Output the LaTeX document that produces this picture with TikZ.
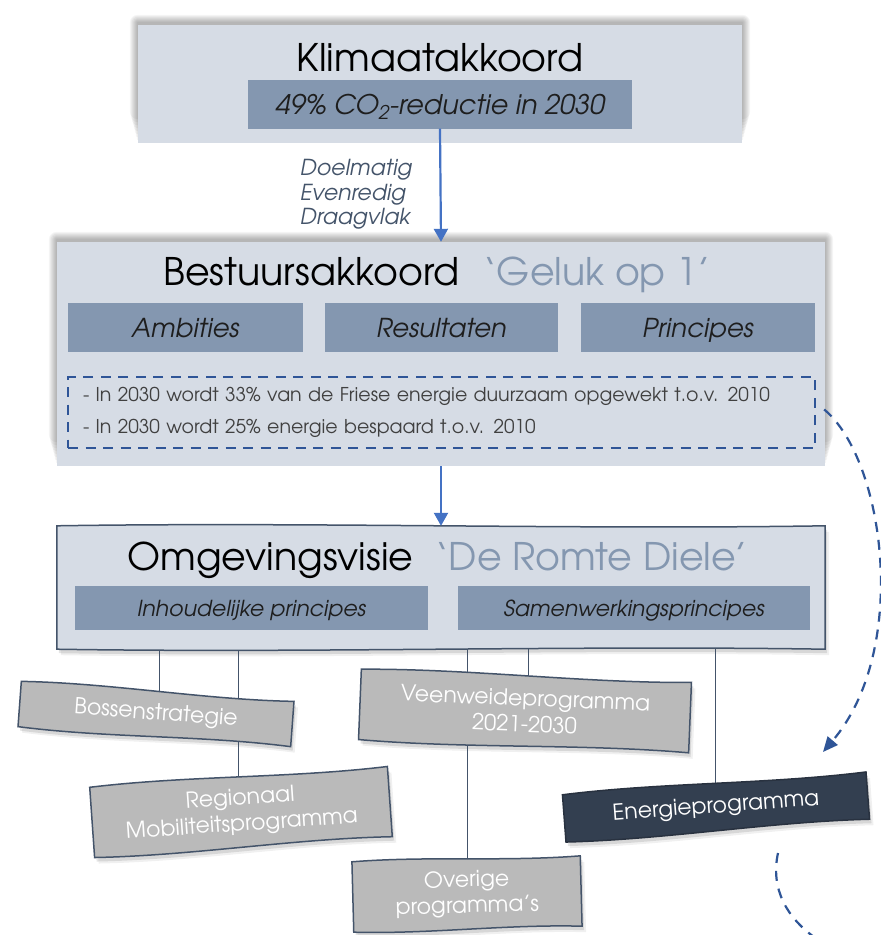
\documentclass[tikz,border=0pt]{standalone}
\usepackage{fontspec}
\setmainfont{texgyreadventor}[Extension=.otf, UprightFont=*-regular, ItalicFont=*-italic, BoldFont=*-bold, BoldItalicFont=*-bolditalic]
\usetikzlibrary{calc,arrows.meta}
\definecolor{boxfill}{HTML}{D6DCE5}
\definecolor{subfill}{HTML}{8497B0}
\definecolor{tgray}{HTML}{8497B0}
\definecolor{outl}{HTML}{44546A}
\definecolor{gfill}{HTML}{BABABA}
\definecolor{enefill}{HTML}{333F50}
\definecolor{barrowc}{HTML}{4472C4}
\definecolor{dashc}{HTML}{2F5597}
\definecolor{lblc}{HTML}{44546A}
\definecolor{txtc}{HTML}{1E1E1E}
\pgfdeclarelayer{shadow}
\pgfdeclarelayer{wave}
\pgfsetlayers{shadow,wave,main}
\newcommand\wavyshape[3]{%
  \path[#1] (#2.north west)
    .. controls ($(#2.north west)!0.33!(#2.north east)!#3!90:(#2.north east)$)
    and ($(#2.north west)!0.67!(#2.north east)!#3!-90:(#2.north east)$) .. (#2.north east)
    -- (#2.south east)
    .. controls ($(#2.south east)!0.33!(#2.south west)!#3!-90:(#2.south west)$)
    and ($(#2.south east)!0.67!(#2.south west)!#3!90:(#2.south west)$) .. (#2.south west)
    -- cycle;}
\newcommand\softshadow[1]{%
  \foreach \i in {1,...,8}{%
    \fill[black,opacity=0.04,rounded corners=\i pt]
      ($(#1.south west)+(-\i,-3*\i)$) rectangle ($(#1.north east)+(\i,-\i-2)$);}}
\newcommand\waveshadow[2]{%
  \begin{scope}[transform canvas={shift={(2pt,-4pt)}}]
    \wavyshape{fill=black,opacity=0.10}{#1}{#2}
  \end{scope}
  \begin{scope}[transform canvas={shift={(4pt,-6pt)}}]
    \wavyshape{fill=black,opacity=0.06}{#1}{#2}
  \end{scope}}
\tikzset{
  bigbox/.style={fill=boxfill, draw=none, inner sep=0pt},
  subbox/.style={fill=subfill, draw=none, inner sep=0pt, text=txtc, text depth=0pt},
  titletxt/.style={inner sep=0pt, text=black, font=\fontsize{38}{40}\selectfont},
  lbl/.style={inner sep=0pt, text=lblc, font=\fontsize{22}{25}\selectfont\itshape, anchor=west,
    text height=16pt, text depth=0pt},
  dashbox/.style={draw=dashc, line width=2.4pt, dash pattern=on 10pt off 7.5pt,
    inner xsep=15pt, inner ysep=0pt, text=txtc!85!white, align=left},
  gbox/.style={inner sep=0pt, text=white, align=center,
    font=\fontsize{22}{26}\selectfont},
  gwave/.style={fill=gfill, draw=outl, line width=1.5pt},
  ewave/.style={fill=enefill, draw=enefill!80!black, line width=1.5pt},
  owave/.style={fill=boxfill, draw=outl, line width=1.5pt},
  barrow/.style={draw=barrowc, line width=2.2pt, -{Triangle[length=13pt,width=14pt]}},
  conn/.style={draw=outl, line width=1pt},
  dashcurve/.style={draw=dashc, line width=2.2pt, dash pattern=on 10pt off 8pt},
}
\begin{document}
\begin{tikzpicture}[x=1pt,y=-1pt]
\useasboundingbox (0,0) rectangle (881,935);
\begin{pgfonlayer}{shadow}
\fill[white] (0,0) rectangle (881,935);
\end{pgfonlayer}

% Klimaatakkoord
\node[bigbox, minimum width=604pt, minimum height=118pt] (klim) at (440,84) {};
\node[titletxt, anchor=base] (klimt) at (440,71) {Klimaatakkoord};
\node[subbox, minimum width=384pt, minimum height=49pt, text height=20pt,
  font=\fontsize{27}{30}\selectfont\itshape] (co2) at (440,104) {49\% CO\textsubscript{2}-reductie in 2030};

\node[lbl] (l1) at (300,167) {Doelmatig};
\node[lbl] (l2) at (300,192) {Evenredig};
\node[lbl] (l3) at (300,216) {Draagvlak};

% Bestuursakkoord
\node[bigbox, minimum width=768pt, minimum height=224pt] (best) at (441,354) {};
\node[titletxt, anchor=base] (bestt) at (437,285) {Bestuursakkoord\hspace{24pt}\textcolor{tgray}{‘Geluk op 1’}};
\node[subbox, minimum width=235pt, minimum height=49pt, text height=19pt, font=\fontsize{26}{28}\selectfont\itshape] (amb) at (185.5,327.5) {Ambities};
\node[subbox, minimum width=233pt, minimum height=49pt, text height=19pt, font=\fontsize{26}{28}\selectfont\itshape] (res) at (441.5,327.5) {Resultaten};
\node[subbox, minimum width=234pt, minimum height=49pt, text height=19pt, font=\fontsize{26}{28}\selectfont\itshape] (pri) at (698,327.5) {Principes};
\node[dashbox, text width=717pt, minimum height=71pt, font=\fontsize{19}{32}\selectfont] (da) at (441.5,412.5)
  {- In 2030 wordt 33\% van de Friese energie duurzaam opgewekt t.o.v. 2010\\- In 2030 wordt 25\% energie bespaard t.o.v. 2010};

% Omgevingsvisie
\node[inner sep=0pt, minimum width=768pt, minimum height=123pt] (omg) at (441,587.5) {};
\node[titletxt, anchor=base] (omgt) at (438,570) {Omgevingsvisie\hspace{22pt}\textcolor{tgray}{‘De Romte Diele’}};
\node[subbox, minimum width=353pt, minimum height=44pt, text height=16pt, font=\fontsize{22}{24}\selectfont\itshape] (inh) at (251.5,608) {Inhoudelijke principes};
\node[subbox, minimum width=352pt, minimum height=44pt, text height=16pt, font=\fontsize{22}{24}\selectfont\itshape] (sam) at (634,608) {Samenwerkingsprincipes};

% programma boxes
\node[gbox, rotate=-4.2, minimum width=273pt, minimum height=45pt] (bos) at (156,714) {Bossenstrategie};
\node[gbox, rotate=4, minimum width=298pt, minimum height=70pt] (reg) at (241,812) {Regionaal\\Mobiliteitsprogramma};
\node[gbox, rotate=-2.3, minimum width=330pt, minimum height=70pt] (vee) at (525,711) {Veenweideprogramma\\2021-2030};
\node[gbox, rotate=1.5, minimum width=228pt, minimum height=70pt] (ove) at (467,894) {Overige\\programma’s};
\node[gbox, rotate=4.3, minimum width=304pt, minimum height=47pt] (ene) at (716,807) {Energieprogramma};

\begin{pgfonlayer}{shadow}
  \softshadow{klim}
  \softshadow{best}
  \waveshadow{omg}{4pt}
  \waveshadow{bos}{5pt}
  \waveshadow{reg}{5pt}
  \waveshadow{vee}{5pt}
  \waveshadow{ove}{4pt}
  \waveshadow{ene}{5pt}
  \coordinate (x1) at (159,0);
  \coordinate (x2) at (238,0);
  \coordinate (x3) at (467,0);
  \coordinate (x4) at (528,0);
  \coordinate (x5) at (715,0);
  \draw[conn] (x1 |- omg.center) -- (x1 |- bos.center);
  \draw[conn] (x2 |- omg.center) -- (x2 |- reg.center);
  \draw[conn] (x3 |- omg.center) -- (x3 |- ove.center);
  \draw[conn] (x4 |- omg.center) -- (x4 |- vee.center);
  \draw[conn] (x5 |- omg.center) -- (x5 |- ene.center);
\end{pgfonlayer}

\begin{pgfonlayer}{wave}
  \wavyshape{owave}{omg}{4pt}
  \wavyshape{gwave}{bos}{5pt}
  \wavyshape{gwave}{reg}{5pt}
  \wavyshape{gwave}{vee}{5pt}
  \wavyshape{gwave}{ove}{4pt}
  \wavyshape{ewave}{ene}{5pt}
\end{pgfonlayer}

% arrows
\draw[barrow] (co2.south) -- (best.north);
\draw[barrow] (best.south) -- (omg.north);

\coordinate (dend) at (823,752);
\draw[dashcurve, -{Triangle[length=15pt,width=13pt]}] ($(da.east)+(8,-3)$) .. controls (885,460) and (910,650) .. (dend);
\coordinate (d2a) at (778,853);
\coordinate (d2b) at (814,937);
\draw[dashcurve] (d2a) .. controls (770,890) and (788,918) .. (d2b);
\end{tikzpicture}
\end{document}
